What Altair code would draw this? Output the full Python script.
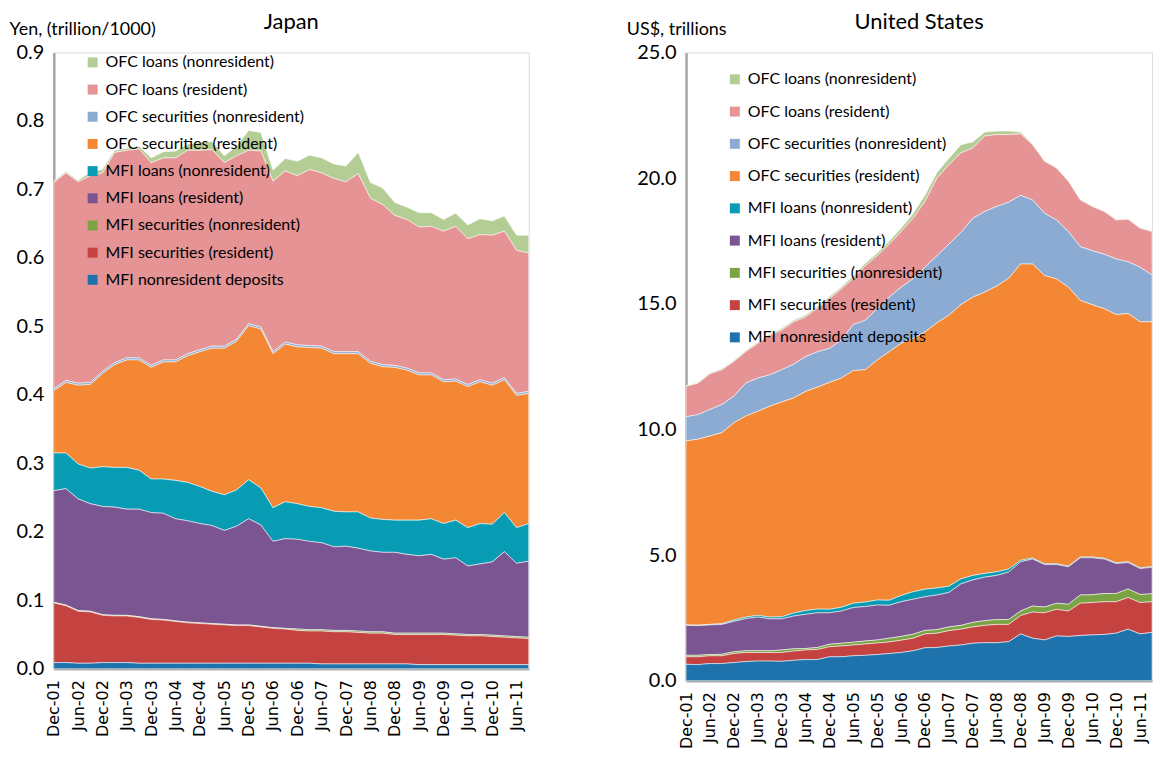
import altair as alt
import pandas as pd

# ---------------- categories ----------------
month_names = ["Dec", "Mar", "Jun", "Sep"]
quarters = [f"{month_names[i % 4]}-{1 + (i + 3) // 4:02d}" for i in range(40)]
tick_labels = quarters[::2]  # Dec-01, Jun-02, ..., Jun-11

series = [
    "OFC loans (nonresident)",
    "OFC loans (resident)",
    "OFC securities (nonresident)",
    "OFC securities (resident)",
    "MFI loans (nonresident)",
    "MFI loans (resident)",
    "MFI securities (nonresident)",
    "MFI securities (resident)",
    "MFI nonresident deposits",
]
colors = ["#B3CD95", "#E59394", "#8CABD3", "#F38733", "#079BB4",
          "#7B5592", "#7AA443", "#C44341", "#1F73AC"]

# ---------------- Japan (Yen, trillion/1000) ----------------
jp_ofc_loans_nonres = [0.002, 0.002, 0.002, 0.005, 0.005, 0.003, 0.003, 0.004, 0.007, 0.009,
                       0.010, 0.009, 0.011, 0.012, 0.010, 0.014, 0.029, 0.027, 0.016, 0.018,
                       0.021, 0.021, 0.022, 0.021, 0.023, 0.031, 0.023, 0.024, 0.019, 0.018,
                       0.021, 0.020, 0.017, 0.019, 0.020, 0.023, 0.021, 0.022, 0.022, 0.026]
jp_ofc_loans_res = [0.301, 0.303, 0.294, 0.302, 0.290, 0.307, 0.303, 0.305, 0.296, 0.295,
                    0.295, 0.297, 0.291, 0.287, 0.268, 0.268, 0.253, 0.257, 0.249, 0.250,
                    0.247, 0.257, 0.253, 0.253, 0.248, 0.260, 0.238, 0.234, 0.219, 0.217,
                    0.213, 0.214, 0.217, 0.223, 0.213, 0.212, 0.216, 0.214, 0.209, 0.202]
jp_ofc_sec_nonres = [0.003, 0.003, 0.003, 0.003, 0.003, 0.003, 0.003, 0.003, 0.003, 0.003,
                     0.003, 0.003, 0.003, 0.003, 0.003, 0.003, 0.003, 0.003, 0.003, 0.003,
                     0.003, 0.003, 0.003, 0.003, 0.003, 0.003, 0.003, 0.003, 0.003, 0.003,
                     0.003, 0.003, 0.003, 0.003, 0.003, 0.003, 0.003, 0.003, 0.003, 0.003]
jp_ofc_sec_res = [0.091, 0.103, 0.115, 0.122, 0.136, 0.150, 0.157, 0.161, 0.163, 0.171,
                  0.173, 0.185, 0.197, 0.209, 0.214, 0.217, 0.225, 0.232, 0.225, 0.230,
                  0.229, 0.232, 0.233, 0.230, 0.231, 0.231, 0.226, 0.223, 0.223, 0.219,
                  0.212, 0.210, 0.207, 0.203, 0.206, 0.207, 0.203, 0.194, 0.193, 0.190]
jp_mfi_loans_nonres = [0.055, 0.052, 0.051, 0.052, 0.058, 0.058, 0.061, 0.057, 0.049, 0.050,
                       0.056, 0.056, 0.054, 0.050, 0.052, 0.053, 0.057, 0.054, 0.049, 0.054,
                       0.052, 0.051, 0.051, 0.052, 0.050, 0.053, 0.048, 0.048, 0.047, 0.050,
                       0.052, 0.052, 0.052, 0.055, 0.056, 0.059, 0.055, 0.057, 0.052, 0.055]
jp_mfi_loans_res = [0.163, 0.170, 0.163, 0.157, 0.158, 0.158, 0.155, 0.157, 0.155, 0.155,
                    0.149, 0.148, 0.145, 0.143, 0.137, 0.144, 0.155, 0.148, 0.126, 0.131,
                    0.131, 0.129, 0.127, 0.122, 0.123, 0.121, 0.118, 0.116, 0.118, 0.115,
                    0.113, 0.115, 0.108, 0.111, 0.100, 0.103, 0.107, 0.123, 0.107, 0.111]
jp_mfi_sec_nonres = [0.001, 0.001, 0.001, 0.001, 0.001, 0.001, 0.001, 0.001, 0.001, 0.001,
                     0.001, 0.001, 0.001, 0.001, 0.001, 0.001, 0.001, 0.001, 0.001, 0.001,
                     0.002, 0.002, 0.002, 0.002, 0.002, 0.002, 0.002, 0.002, 0.002, 0.002,
                     0.002, 0.002, 0.002, 0.002, 0.002, 0.002, 0.002, 0.002, 0.002, 0.002]
jp_mfi_sec_res = [0.087, 0.083, 0.076, 0.075, 0.069, 0.068, 0.068, 0.067, 0.064, 0.063,
                  0.061, 0.059, 0.058, 0.057, 0.056, 0.055, 0.055, 0.053, 0.051, 0.050,
                  0.048, 0.047, 0.048, 0.047, 0.047, 0.046, 0.045, 0.045, 0.043, 0.043,
                  0.044, 0.044, 0.044, 0.043, 0.042, 0.042, 0.041, 0.040, 0.039, 0.038]
jp_mfi_dep = [0.009, 0.009, 0.008, 0.008, 0.009, 0.009, 0.009, 0.008, 0.008, 0.008,
              0.008, 0.008, 0.008, 0.008, 0.008, 0.008, 0.008, 0.008, 0.008, 0.008,
              0.008, 0.008, 0.007, 0.007, 0.007, 0.007, 0.007, 0.007, 0.007, 0.007,
              0.006, 0.006, 0.006, 0.006, 0.006, 0.006, 0.006, 0.006, 0.006, 0.006]

# ---------------- United States (US$, trillions) ----------------
us_ofc_loans_nonres = [0.03, 0.03, 0.03, 0.04, 0.04, 0.05, 0.05, 0.05, 0.06, 0.06,
                       0.07, 0.07, 0.08, 0.08, 0.09, 0.10, 0.10, 0.12, 0.13, 0.18,
                       0.25, 0.22, 0.25, 0.33, 0.24, 0.16, 0.14, 0.14, 0.07, 0.03,
                       0.02, 0.02, 0.02, 0.02, 0.02, 0.02, 0.02, 0.02, 0.02, 0.02]
us_ofc_loans_res = [1.21, 1.25, 1.42, 1.38, 1.38, 1.25, 1.38, 1.58, 1.58, 1.69,
                    1.58, 1.74, 1.98, 2.04, 1.84, 2.17, 2.11, 2.11, 2.21, 2.41,
                    2.62, 3.09, 3.16, 3.17, 2.80, 3.00, 2.86, 2.69, 2.45, 2.20,
                    2.07, 2.07, 2.00, 1.86, 1.76, 1.70, 1.55, 1.69, 1.55, 1.73]
us_ofc_sec_nonres = [0.96, 0.98, 1.05, 1.12, 1.06, 1.31, 1.32, 1.25, 1.28, 1.34,
                     1.38, 1.41, 1.35, 1.51, 1.83, 1.97, 2.04, 2.17, 2.24, 2.37,
                     2.57, 2.67, 2.83, 2.87, 3.14, 3.21, 3.17, 3.03, 2.73, 2.55,
                     2.48, 2.34, 2.21, 2.14, 2.15, 2.17, 2.21, 2.06, 2.17, 1.86]
us_ofc_sec_res = [7.32, 7.40, 7.50, 7.60, 7.85, 8.00, 8.12, 8.39, 8.55, 8.56,
                  8.72, 8.83, 9.03, 9.12, 9.26, 9.24, 9.55, 9.89, 10.03, 10.08,
                  10.24, 10.55, 10.78, 10.91, 11.07, 11.19, 11.37, 11.57, 11.79, 11.70,
                  11.47, 11.34, 11.10, 10.21, 10.04, 9.93, 9.88, 9.88, 9.79, 9.74]
us_mfi_loans_nonres = [0.02, 0.02, 0.02, 0.03, 0.05, 0.06, 0.07, 0.07, 0.08, 0.12,
                       0.15, 0.15, 0.14, 0.15, 0.17, 0.18, 0.20, 0.20, 0.25, 0.30,
                       0.30, 0.28, 0.25, 0.20, 0.18, 0.15, 0.14, 0.12, 0.06, 0.04,
                       0.03, 0.03, 0.03, 0.03, 0.03, 0.03, 0.03, 0.03, 0.03, 0.03]
us_mfi_loans_res = [1.19, 1.18, 1.18, 1.19, 1.21, 1.28, 1.34, 1.27, 1.24, 1.30,
                    1.36, 1.38, 1.25, 1.28, 1.38, 1.37, 1.39, 1.31, 1.38, 1.39,
                    1.34, 1.38, 1.37, 1.65, 1.69, 1.73, 1.76, 1.89, 1.96, 1.87,
                    1.69, 1.54, 1.49, 1.48, 1.47, 1.37, 1.19, 1.05, 1.03, 1.05]
us_mfi_sec_nonres = [0.06, 0.06, 0.05, 0.06, 0.07, 0.07, 0.07, 0.07, 0.10, 0.09,
                     0.06, 0.08, 0.10, 0.11, 0.11, 0.12, 0.12, 0.15, 0.15, 0.16,
                     0.14, 0.14, 0.15, 0.15, 0.18, 0.19, 0.19, 0.19, 0.18, 0.24,
                     0.23, 0.24, 0.27, 0.33, 0.31, 0.33, 0.33, 0.34, 0.32, 0.32]
us_mfi_sec_res = [0.30, 0.31, 0.31, 0.31, 0.36, 0.36, 0.34, 0.34, 0.35, 0.37,
                  0.38, 0.40, 0.40, 0.43, 0.43, 0.45, 0.46, 0.46, 0.49, 0.50,
                  0.55, 0.57, 0.61, 0.63, 0.65, 0.69, 0.73, 0.69, 0.73, 1.04,
                  1.08, 1.06, 1.01, 1.28, 1.29, 1.30, 1.25, 1.26, 1.25, 1.22]
us_mfi_dep = [0.65, 0.64, 0.68, 0.68, 0.72, 0.76, 0.78, 0.78, 0.77, 0.81,
              0.84, 0.84, 0.95, 0.95, 0.99, 1.01, 1.04, 1.08, 1.12, 1.19,
              1.31, 1.32, 1.38, 1.42, 1.49, 1.51, 1.51, 1.55, 1.86, 1.69,
              1.62, 1.78, 1.76, 1.80, 1.82, 1.84, 1.89, 2.05, 1.86, 1.92]

jp_values = [jp_ofc_loans_nonres, jp_ofc_loans_res, jp_ofc_sec_nonres, jp_ofc_sec_res,
             jp_mfi_loans_nonres, jp_mfi_loans_res, jp_mfi_sec_nonres, jp_mfi_sec_res, jp_mfi_dep]
us_values = [us_ofc_loans_nonres, us_ofc_loans_res, us_ofc_sec_nonres, us_ofc_sec_res,
             us_mfi_loans_nonres, us_mfi_loans_res, us_mfi_sec_nonres, us_mfi_sec_res, us_mfi_dep]


def long_table(values):
    rows = []
    for k, (name, vals) in enumerate(zip(series, values)):
        for i, v in enumerate(vals):
            rows.append({"t": i, "series": name, "value": v, "stack": len(series) - 1 - k})
    return pd.DataFrame(rows)


label_expr = "[" + ",".join(f"'{s}'" for s in tick_labels) + "][round(datum.value/2)]"
FONT = "Lato"


def panel(df, title, ytitle, ymax, yticks, w, h, title_x, lx, ly, row_pad):
    return alt.Chart(df).mark_area(stroke="white", strokeWidth=0.6, strokeOpacity=0.9).encode(
        x=alt.X("t:Q",
                scale=alt.Scale(domain=[0, 39], nice=False, zero=False),
                axis=alt.Axis(values=list(range(0, 40, 2)), labelExpr=label_expr, title=None,
                              labelAngle=-90, labelAlign="right", labelBaseline="middle",
                              labelPadding=11, labelFont="DejaVu Sans", labelFontSize=16,
                              labelColor="black", labelOverlap=False, labelFlush=False,
                              ticks=False, grid=False, domainColor="#A6A6A6", domainWidth=2.5)),
        y=alt.Y("value:Q", stack="zero",
                scale=alt.Scale(domain=[0, ymax], nice=False),
                axis=alt.Axis(values=yticks, format=".1f", title=ytitle, titleAngle=0,
                              titleAlign="left", titleBaseline="middle", titleX=title_x,
                              titleY=-23, titleFont=FONT, titleFontSize=18,
                              titleFontWeight="normal", titleColor="black",
                              labelFont=FONT, labelFontSize=20, labelColor="black",
                              labelPadding=10, ticks=False, grid=False,
                              domainColor="#A6A6A6", domainWidth=2.5)),
        color=alt.Color("series:N", scale=alt.Scale(domain=series, range=colors),
                        legend=alt.Legend(orient="none", legendX=lx, legendY=ly, title=None,
                                          symbolType="square", symbolSize=100,
                                          symbolStrokeWidth=0, labelFont=FONT,
                                          labelFontSize=16, labelColor="black",
                                          labelLimit=400,
                                          rowPadding=row_pad, labelOffset=5, padding=0,
                                          direction="vertical")),
        order=alt.Order("stack:Q", sort="ascending"),
    ).properties(
        width=w, height=h,
        title=alt.TitleParams(title, font=FONT, fontSize=22, fontWeight="normal",
                              color="black", anchor="middle", offset=-13),
    )


japan = panel(long_table(jp_values), "Japan", "Yen, (trillion/1000)", 0.9,
              [round(0.1 * k, 1) for k in range(10)], 477, 619, -45, 31, 2, 11.3)
usa = panel(long_table(us_values), "United States", "US$, trillions", 25,
            [0, 5, 10, 15, 20, 25], 468, 631, -60, 41, 19, 16.4)

chart = alt.hconcat(japan, usa, spacing=95).resolve_scale(color="independent").resolve_legend(
    color="independent"
).properties(
    padding={"left": 0, "top": 0, "right": 2, "bottom": 0}
).configure_view(stroke=None).configure(background="white")

chart.save("out.html", embed_options={"renderer": "svg", "actions": False})
